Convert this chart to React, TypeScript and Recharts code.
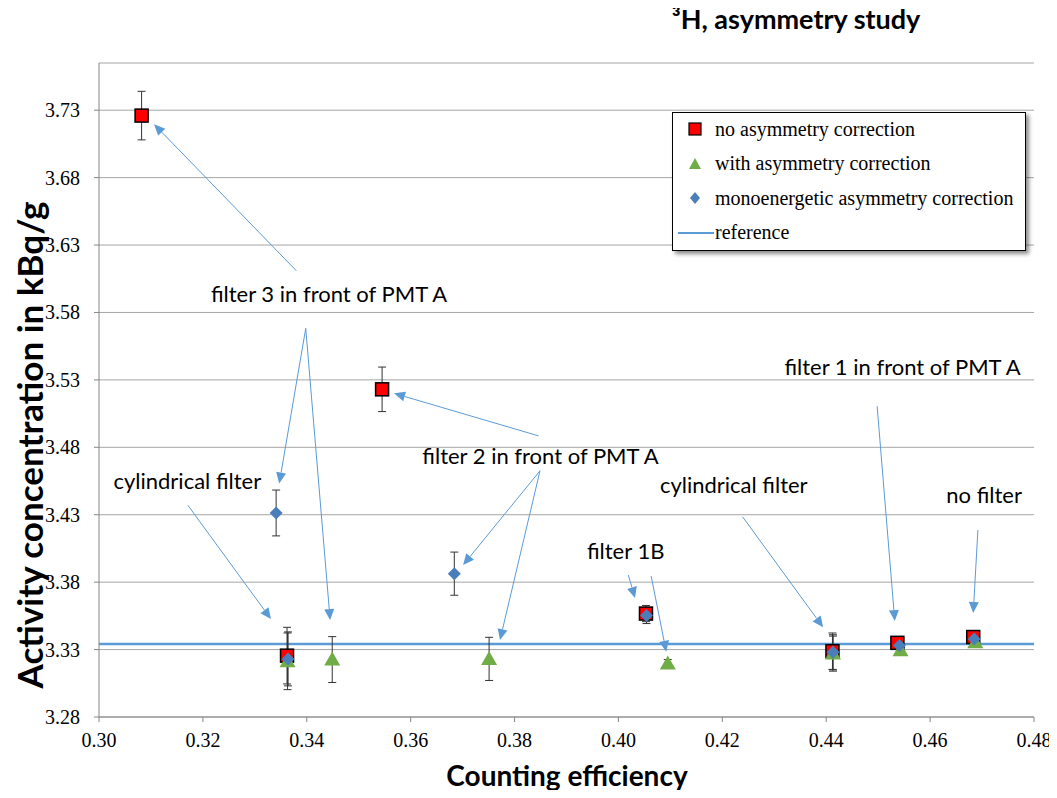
import React from "react";
import {
  ScatterChart,
  Scatter,
  XAxis,
  YAxis,
  CartesianGrid,
  ErrorBar,
  ReferenceLine,
  ReferenceDot,
  Legend,
  Customized,
} from "recharts";

// no asymmetry correction
const noCorrX = [0.3082, 0.3545, 0.3362, 0.4053, 0.4412, 0.4537, 0.4683];
const noCorrY = [3.726, 3.523, 3.3255, 3.3567, 3.3288, 3.335, 3.3393];
const noCorrErr = [0.018, 0.0165, 0.021, 0.006, 0.0135, 0.002, 0.004];

// with asymmetry correction
const withCorrX = [0.3363, 0.3449, 0.3751, 0.4095, 0.4413, 0.4543, 0.4687];
const withCorrY = [3.3213, 3.3226, 3.3231, 3.3196, 3.327, 3.3295, 3.3354];
const withCorrErr = [0.021, 0.017, 0.016, 0.003, 0.013, 0.002, 0.003];

// monoenergetic asymmetry correction
const monoX = [0.3341, 0.3684, 0.3364, 0.4054, 0.4413, 0.4541, 0.4685];
const monoY = [3.4313, 3.3863, 3.3231, 3.3553, 3.328, 3.333, 3.3378];
const monoErr = [0.017, 0.016, 0.02, 0.006, 0.013, 0.002, 0.003];

const referenceValue = 3.3342;

const xTicks = [0.3, 0.32, 0.34, 0.36, 0.38, 0.4, 0.42, 0.44, 0.46, 0.48];
const yTicks = [3.28, 3.33, 3.38, 3.43, 3.48, 3.53, 3.58, 3.63, 3.68, 3.73];

// annotation texts (anchored at text centre / baseline, in data units)
const noteText = [
  "filter 3 in front of PMT A",
  "filter 2 in front of PMT A",
  "cylindrical filter",
  "filter 1B",
  "cylindrical filter",
  "filter 1 in front of PMT A",
  "no filter",
];
const noteX = [0.3443, 0.385, 0.317, 0.4014, 0.4222, 0.4547, 0.4704];
const noteY = [3.5877, 3.4675, 3.449, 3.3971, 3.446, 3.5335, 3.4386];

// arrows: start -> tip
const arrowFromX = [0.338, 0.3398, 0.3398, 0.3846, 0.3849, 0.3849, 0.3171, 0.4019, 0.4063, 0.4239, 0.4498, 0.4692];
const arrowFromY = [3.6109, 3.5682, 3.5682, 3.4885, 3.4626, 3.4626, 3.4371, 3.3853, 3.3845, 3.4285, 3.5105, 3.4186];
const arrowToX = [0.3106, 0.3347, 0.3445, 0.3568, 0.3701, 0.3772, 0.3331, 0.4032, 0.4092, 0.4394, 0.4532, 0.4683];
const arrowToY = [3.7196, 3.4532, 3.3519, 3.52, 3.3927, 3.3371, 3.3526, 3.3682, 3.3284, 3.3465, 3.3511, 3.3571];

const toRows = (xs: number[], ys: number[], es: number[]) =>
  xs.map((x, i) => ({ x, y: ys[i], err: es[i] }));

const noCorrData = toRows(noCorrX, noCorrY, noCorrErr);
const withCorrData = toRows(withCorrX, withCorrY, withCorrErr);
const monoData = toRows(monoX, monoY, monoErr);

const BLUE = "#5B9BD5";
const LABEL_FONT = "Lato, 'Open Sans', sans-serif";
const SERIF = "Liberation Serif";

const Square = (p: any) => (
  <rect x={p.cx - 6.5} y={p.cy - 6.5} width={13} height={13} fill="#FF0000" stroke="#000" strokeWidth={1.5} />
);
const Triangle = (p: any) => (
  <polygon points={`${p.cx},${p.cy - 8} ${p.cx + 8},${p.cy + 6} ${p.cx - 8},${p.cy + 6}`} fill="#70AD47" />
);
const Diamond = (p: any) => (
  <polygon points={`${p.cx},${p.cy - 6.5} ${p.cx + 6.5},${p.cy} ${p.cx},${p.cy + 6.5} ${p.cx - 6.5},${p.cy}`} fill="#4A7EBB" />
);

const Arrow = (p: any) => {
  const { x1, y1, x2, y2 } = p;
  const a = Math.atan2(y2 - y1, x2 - x1);
  const len = 11;
  const half = 5;
  const bx = x2 - len * Math.cos(a);
  const by = y2 - len * Math.sin(a);
  const nx = -Math.sin(a) * half;
  const ny = Math.cos(a) * half;
  return (
    <g>
      <line x1={x1} y1={y1} x2={bx} y2={by} stroke={BLUE} strokeWidth={1} />
      <polygon points={`${x2},${y2} ${bx + nx},${by + ny} ${bx - nx},${by - ny}`} fill={BLUE} />
    </g>
  );
};

const renderXTick = (p: any) => (
  <g>
    <text x={p.x} y={p.y + 23} textAnchor="middle" fontFamily={SERIF} fontSize={20} fill="#000">
      {Number(p.payload.value).toFixed(2)}
    </text>
  </g>
);
const renderYTick = (p: any) => (
  <g>
    <text x={80} y={p.y + 7} textAnchor="end" fontFamily={SERIF} fontSize={20} fill="#000">
      {Number(p.payload.value).toFixed(2)}
    </text>
  </g>
);

const LegendBox = () => {
  const rows = [
    { label: "no asymmetry correction", icon: <rect x={16} y={10} width={12} height={12} fill="#FF0000" stroke="#000" strokeWidth={1.2} /> },
    { label: "with asymmetry correction", icon: <polygon points="22,10 28,21 16,21" fill="#70AD47" /> },
    { label: "monoenergetic asymmetry correction", icon: <polygon points="22,10 27,16 22,22 17,16" fill="#4A7EBB" /> },
    { label: "reference", icon: <line x1={5} y1={16} x2={41} y2={16} stroke={BLUE} strokeWidth={2} /> },
  ];
  return (
    <div
      style={{
        width: 354,
        height: 139,
        boxSizing: "border-box",
        border: "1.5px solid #000",
        boxShadow: "3px 3px 4px rgba(0,0,0,0.45)",
        background: "#fff",
        position: "relative",
        fontFamily: SERIF,
        fontSize: 20,
        color: "#000",
      }}
    >
      {rows.map((r, i) => (
        <div key={r.label} style={{ position: "absolute", left: 0, top: 0 + i * 34.5, height: 32, display: "flex", alignItems: "center", whiteSpace: "nowrap" }}>
          <svg width={42} height={32} style={{ display: "block" }}>{r.icon}</svg>
          <span>{r.label}</span>
        </div>
      ))}
    </div>
  );
};

const Titles = () => (
  <g>
    <text x={796} y={29} textAnchor="middle" fontFamily={LABEL_FONT} fontWeight="bold" fontSize={27} fill="#000">
      ³H, asymmetry study
    </text>
    <text x={567} y={786} textAnchor="middle" fontFamily={LABEL_FONT} fontWeight="bold" fontSize={28} fill="#000">
      Counting efficiency
    </text>
    <text
      x={29}
      y={445}
      transform="rotate(-90 29 445)"
      textAnchor="middle"
      dominantBaseline="central"
      fontFamily={LABEL_FONT}
      fontWeight="bold"
      fontSize={35}
      fill="#000"
    >
      Activity concentration in kBq/g
    </text>
  </g>
);

export default function App() {
  return (
    <div style={{ position: "relative", width: 1057, height: 798, margin: -8, background: "#fff" }}>
      <ScatterChart width={1057} height={798} margin={{ top: 63, right: 23, bottom: 0, left: 0 }}>
        <CartesianGrid vertical={false} stroke="#A6A6A6" />
        <XAxis
          type="number"
          dataKey="x"
          domain={[0.3, 0.48]}
          ticks={xTicks}
          height={81}
          stroke="#868686"
          tickSize={5}
          tick={renderXTick}
          allowDataOverflow
        />
        <YAxis
          type="number"
          dataKey="y"
          domain={[3.28, 3.765]}
          ticks={yTicks}
          width={99}
          stroke="#868686"
          tickSize={5}
          tick={renderYTick}
          allowDataOverflow
        />
        <ReferenceLine y={referenceValue} stroke={BLUE} strokeWidth={2.5} ifOverflow="visible" />
        {arrowFromX.map((fx, i) => (
          <ReferenceLine
            key={`arrow-${i}`}
            segment={[
              { x: fx, y: arrowFromY[i] },
              { x: arrowToX[i], y: arrowToY[i] },
            ]}
            ifOverflow="visible"
            shape={Arrow}
          />
        ))}
        {noteText.map((t, i) => (
          <ReferenceDot
            key={`note-${i}`}
            x={noteX[i]}
            y={noteY[i]}
            r={0}
            ifOverflow="visible"
            shape={(p: any) => (
              <text x={p.cx} y={p.cy} textAnchor="middle" fontFamily={LABEL_FONT} fontSize={22} fill="#000">
                {t}
              </text>
            )}
          />
        ))}
        <Scatter name="no asymmetry correction" data={noCorrData} shape={Square} isAnimationActive={false}>
          <ErrorBar dataKey="err" direction="y" width={4} stroke="#333" strokeWidth={1} />
        </Scatter>
        <Scatter name="with asymmetry correction" data={withCorrData} shape={Triangle} isAnimationActive={false}>
          <ErrorBar dataKey="err" direction="y" width={4} stroke="#333" strokeWidth={1} />
        </Scatter>
        <Scatter name="monoenergetic asymmetry correction" data={monoData} shape={Diamond} isAnimationActive={false}>
          <ErrorBar dataKey="err" direction="y" width={4} stroke="#333" strokeWidth={1} />
        </Scatter>
        <Legend
          layout="vertical"
          align="center"
          verticalAlign="middle"
          content={<LegendBox />}
          wrapperStyle={{ left: 672, top: 112, width: 354, height: 139 }}
        />
        <Customized component={<Titles />} />
      </ScatterChart>
    </div>
  );
}
